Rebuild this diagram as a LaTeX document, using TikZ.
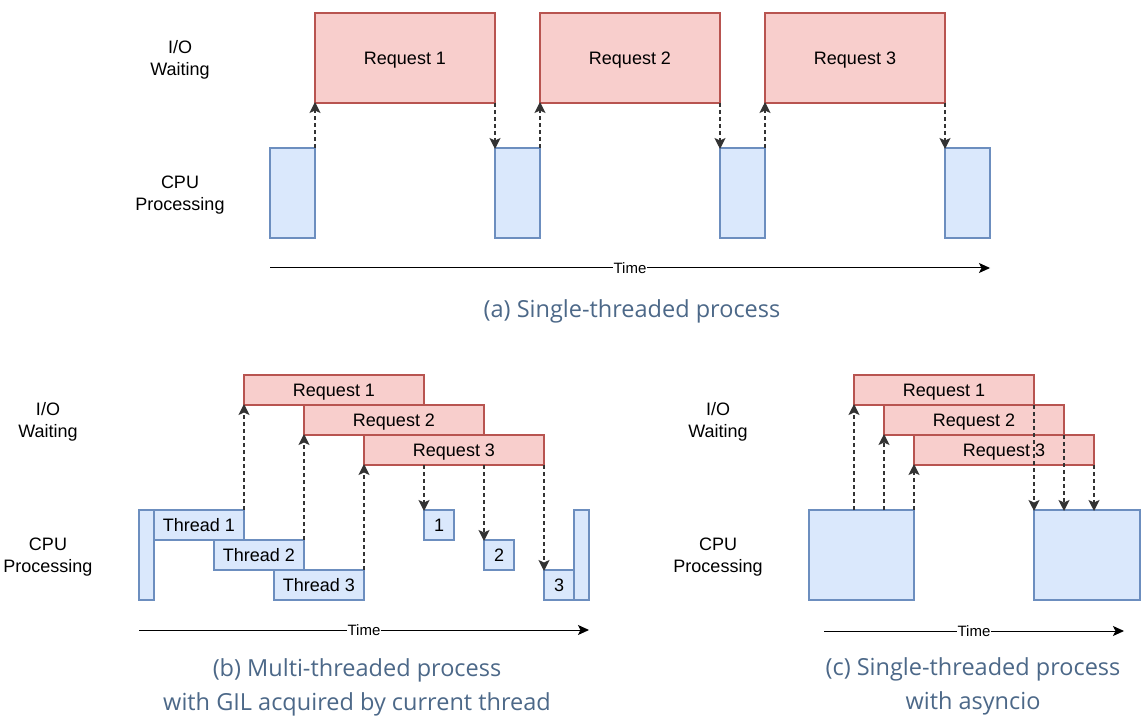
\documentclass[tikz,border=0pt]{standalone}
\usepackage{fontspec}
\setmainfont{Liberation Sans}
\newfontfamily\capfont{Open Sans}
\usetikzlibrary{arrows.meta, positioning}

\definecolor{reqfill}{HTML}{F8CECC}
\definecolor{reqline}{HTML}{B85450}
\definecolor{cpufill}{HTML}{DAE8FC}
\definecolor{cpuline}{HTML}{6C8EBF}
\definecolor{captext}{RGB}{76,104,136}

\begin{document}
\begin{tikzpicture}[
        x=1pt, y=-1pt,
        req/.style={draw=reqline, fill=reqfill, line width=1.2pt, inner sep=0pt,
            outer sep=0pt, anchor=north west, text depth=0pt,
            font=\fontsize{18}{22}\selectfont},
        cpu/.style={draw=cpuline, fill=cpufill, line width=1.2pt, inner sep=0pt,
            outer sep=0pt, anchor=north west, text depth=0pt,
            font=\fontsize{18}{22}\selectfont},
        flow/.style={-{Stealth[length=11pt, width=11pt, inset=2.5pt, sep=-1pt]}, dashed,
            dash pattern=on 4pt off 3pt, line width=1.3pt, draw=black!80},
        timeline/.style={-{Stealth[length=11pt, width=10pt, inset=2.5pt]}, line width=1pt},
        timelbl/.style={fill=white, inner sep=1pt, font=\fontsize{15}{18}\selectfont},
        side/.style={align=center, font=\fontsize{18}{22}\selectfont},
        caption/.style={align=center, text=captext,
            font=\capfont\fontsize{23.5}{34}\selectfont}]

    \useasboundingbox (0,0) rectangle (1148,719);

    % (a) single-threaded
    \node [req, minimum width=180pt, minimum height=90pt] (r1) at (315,13) {Request 1};
    \node [req, minimum width=180pt, minimum height=90pt] (r2) [right=45pt of r1] {Request 2};
    \node [req, minimum width=180pt, minimum height=90pt] (r3) [right=45pt of r2] {Request 3};
    \node [cpu, minimum width=45pt, minimum height=90pt] (c1) at (270,148) {};
    \node [cpu, minimum width=45pt, minimum height=90pt] (c2) [right=180pt of c1] {};
    \node [cpu, minimum width=45pt, minimum height=90pt] (c3) [right=180pt of c2] {};
    \node [cpu, minimum width=45pt, minimum height=90pt] (c4) [right=180pt of c3] {};

    \foreach \i/\j in {1/2, 2/3, 3/4} {
        \draw [flow] (c\i.north east) -- (r\i.south west);
        \draw [flow] (r\i.south east) -- (c\j.north west);
    }

    \node [side] (ioa) at (180,60) {I/O\\Waiting};
    \node [side] (cpua) at (180,195) {CPU\\Processing};

    \coordinate (ta0) at (270,268);
    \coordinate (ta1) at (990,268);
    \draw [timeline] (ta0) -- node [timelbl] (tima) {Time} (ta1);
    \node [caption] (capa) at (632,311) {(a) Single-threaded process};

    % (b) multi-threaded with GIL
    \node [req, minimum width=180pt, minimum height=30pt] (r1b) at (244,375) {Request 1};
    \node [req, minimum width=180pt, minimum height=30pt] (r2b) at ([xshift=60pt]r1b.south west) {Request 2};
    \node [req, minimum width=180pt, minimum height=30pt] (r3b) at ([xshift=60pt]r2b.south west) {Request 3};

    \node [cpu, minimum width=15pt, minimum height=90pt] (barl) at (139,510) {};
    \node [cpu, minimum width=90pt, minimum height=30pt] (t1) at (barl.north east) {Thread 1};
    \node [cpu, minimum width=90pt, minimum height=30pt] (t2) at ([xshift=60pt]t1.south west) {Thread 2};
    \node [cpu, minimum width=90pt, minimum height=30pt] (t3) at ([xshift=60pt]t2.south west) {Thread 3};
    \node [cpu, minimum width=30pt, minimum height=30pt] (n1) at (424,510) {1};
    \node [cpu, minimum width=30pt, minimum height=30pt] (n2) at ([xshift=30pt]n1.south east) {2};
    \node [cpu, minimum width=30pt, minimum height=30pt] (n3) at ([xshift=30pt]n2.south east) {3};
    \node [cpu, minimum width=15pt, minimum height=90pt, anchor=south west] (barr) at (n3.south east) {};

    \foreach \i in {1,2,3} {
        \draw [flow] (t\i.north east) -- (r\i b.south west);
        \draw [flow] (r\i b.south east |- r3b.south) -- (n\i.north west);
    }

    \node [side] (iob) at (48,422) {I/O\\Waiting};
    \node [side] (cpub) at (48,557) {CPU\\Processing};

    \coordinate (tb0) at (139,630);
    \coordinate (tb1) at (589,630);
    \draw [timeline] (tb0) -- node [timelbl] (timb) {Time} (tb1);
    \node [caption] (capb) at (357,687) {(b) Multi-threaded process\\with GIL acquired by current thread};

    % (c) single-threaded with asyncio
    \node [req, minimum width=180pt, minimum height=30pt] (r1c) at (854,375) {Request 1};
    \node [req, minimum width=180pt, minimum height=30pt] (r2c) at ([xshift=30pt]r1c.south west) {Request 2};
    \node [req, minimum width=180pt, minimum height=30pt] (r3c) at ([xshift=30pt]r2c.south west) {Request 3};
    \node [cpu, minimum width=105pt, minimum height=90pt] (cl) at (809,510) {};
    \node [cpu, minimum width=106pt, minimum height=90pt] (cr) at (1034,510) {};

    \foreach \r in {r1c, r2c, r3c} {
        \draw [flow] (\r.south west |- cl.north) -- (\r.south west);
        \draw [flow] (\r.south east) -- (\r.south east |- cr.north);
    }

    \node [side] (ioc) at (718,422) {I/O\\Waiting};
    \node [side] (cpuc) at (718,557) {CPU\\Processing};

    \coordinate (tc0) at (824,631);
    \coordinate (tc1) at (1124,631);
    \draw [timeline] (tc0) -- node [timelbl] (timc) {Time} (tc1);
    \node [caption] (capc) at (973,686) {(c) Single-threaded process\\with asyncio};
\end{tikzpicture}
\end{document}
